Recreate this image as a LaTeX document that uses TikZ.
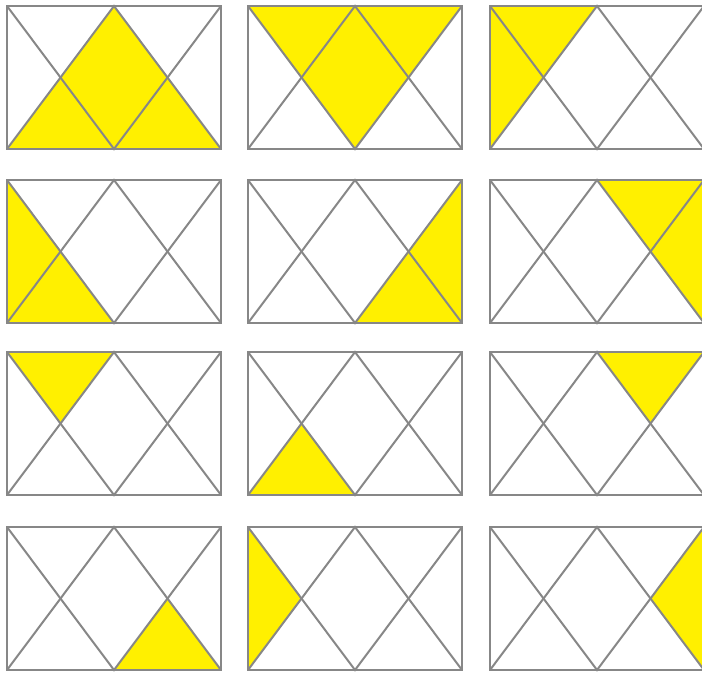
\documentclass[tikz,border=0pt]{standalone}
\usetikzlibrary{calc}
\definecolor{frame}{HTML}{878787}
\definecolor{hilite}{HTML}{FFF000}

\begin{document}
\begin{tikzpicture}[
  x=1pt, y=-1pt,
  cell/.style={draw=frame, line width=2pt, line join=miter},
  lit/.style={fill=hilite}
]
  \useasboundingbox (0,0) rectangle (702,673);
  % corner points of every panel (214 wide, 143 high)
  \foreach \p/\x/\y in {p1/7/6, p2/248/6, p3/490/6,
                        p4/7/180, p5/248/180, p6/490/180,
                        p7/7/352, p8/248/352, p9/490/352,
                        p10/7/527, p11/248/527, p12/490/527} {
    \coordinate (\p-tl) at (\x,\y);
    \coordinate (\p-tm) at (\x+107,\y);
    \coordinate (\p-tr) at (\x+214,\y);
    \coordinate (\p-bl) at (\x,\y+143);
    \coordinate (\p-bm) at (\x+107,\y+143);
    \coordinate (\p-br) at (\x+214,\y+143);
    \coordinate (\p-cl) at (\x+53.5,\y+71.5);
    \coordinate (\p-cr) at (\x+160.5,\y+71.5);
  }
  % yellow parts
  \fill[lit] (p1-bl) -- (p1-tm) -- (p1-br) -- cycle;
  \fill[lit] (p2-tl) -- (p2-tr) -- (p2-bm) -- cycle;
  \fill[lit] (p3-tl) -- (p3-tm) -- (p3-bl) -- cycle;
  \fill[lit] (p4-tl) -- (p4-cl) -- (p4-bm) -- (p4-bl) -- cycle;
  \fill[lit] (p5-tr) -- (p5-br) -- (p5-bm) -- (p5-cr) -- cycle;
  \fill[lit] (p6-tm) -- (p6-tr) -- (p6-br) -- (p6-cr) -- cycle;
  \fill[lit] (p7-tl) -- (p7-tm) -- (p7-cl) -- cycle;
  \fill[lit] (p8-bl) -- (p8-cl) -- (p8-bm) -- cycle;
  \fill[lit] (p9-tm) -- (p9-tr) -- (p9-cr) -- cycle;
  \fill[lit] (p10-bm) -- (p10-cr) -- (p10-br) -- cycle;
  \fill[lit] (p11-tl) -- (p11-cl) -- (p11-bl) -- cycle;
  \fill[lit] (p12-tr) -- (p12-cr) -- (p12-br) -- cycle;
  % frames and crossing lines
  \foreach \p in {p1,p2,p3,p4,p5,p6,p7,p8,p9,p10,p11,p12} {
    \draw[cell] (\p-tl) rectangle (\p-br);
    \draw[cell] (\p-tl) -- (\p-bm) -- (\p-tr);
    \draw[cell] (\p-bl) -- (\p-tm) -- (\p-br);
  }
\end{tikzpicture}
\end{document}
